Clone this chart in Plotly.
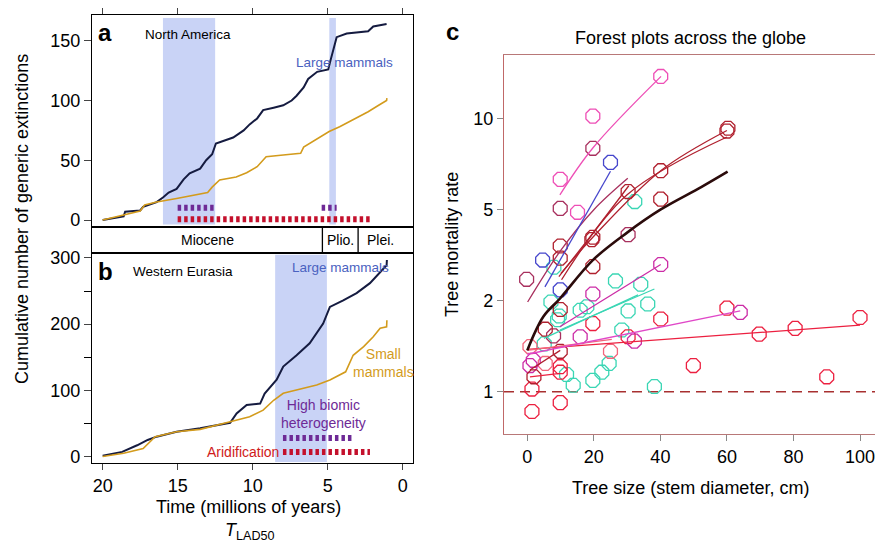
import numpy as np
import plotly.graph_objects as go

W, H = 875, 542
FONT = "Liberation Sans, Arial, sans-serif"

# ---------------- Panel a: North America ----------------
NA_LARGE_T = [20, 18.6, 18.5, 17.5, 17.3, 16.4, 15.96, 15.6, 15.07, 14.6, 14.2, 13.5, 13.1, 12.7, 12.45,
              11.96, 11.3, 10.6, 10.2, 9.7, 9.3, 8.6, 7.96, 7.4, 7.07, 6.6, 6.3, 5.7, 4.96, 4.8, 4.5, 4.4,
              3.73, 2.3, 1.96, 1.07]
NA_LARGE_N = [0, 3, 7, 8, 11, 15, 19, 23, 26, 34, 39, 43, 50, 55, 64, 66, 69, 75, 80, 85, 92, 94, 96, 100,
              104, 111, 118, 124, 126, 134, 150, 153, 156, 158, 162, 164]
NA_SMALL_T = [20, 18.6, 17.5, 17.2, 16.4, 15.07, 14.2, 13.0, 12.7, 12.2, 11.1, 10.4, 9.7, 9.1, 7.96, 6.8,
              6.6, 6.0, 5.3, 4.9, 4.2, 3.6, 2.9, 2.3, 1.6, 1.07, 1.05]
NA_SMALL_N = [0, 4, 7.5, 12.5, 15, 18, 20, 23, 27.5, 33.5, 36, 39.5, 44.6, 53, 54.4, 55.8, 61, 65.5, 71,
              74, 78, 82, 86.5, 90.6, 96, 100, 102]
NA_SHADE = [(15.98, 12.5), (4.89, 4.45)]
NA_BIOMIC = [(15.0, 12.4), (5.4, 4.4)]
NA_ARID = [(15.0, 2.0)]

# ---------------- Panel b: Western Eurasia ----------------
WE_LARGE_T = [20, 18.7, 17.7, 17.0, 16.4, 15.07, 13.5, 11.5, 11.07, 10.4, 9.5, 9.2, 8.4, 7.96, 7.07, 6.2,
              5.3, 4.85, 3.96, 3.07, 2.18, 1.5, 1.07, 1.05]
WE_LARGE_N = [1, 7, 17, 25, 30, 37.5, 42.6, 51, 65, 78, 80, 95, 116, 136, 153, 171, 201, 226, 236, 247,
              262, 279, 289, 297]
WE_SMALL_T = [20, 18.6, 17.3, 16.5, 15.07, 13.5, 11.5, 10.2, 9.3, 8.6, 7.96, 6.6, 5.73, 4.85, 3.8, 3.3,
              2.6, 1.96, 1.5, 1.07, 1.05]
WE_SMALL_N = [0, 5, 12, 30, 37.5, 41, 52.6, 60, 70, 85, 95.5, 103, 108, 115.6, 128, 153, 166, 181, 194,
              196, 206]
WE_SHADE = [(8.5, 5.05)]
WE_BIOMIC = [(7.98, 3.38)]
WE_ARID = [(7.98, 2.18)]

EPOCHS = ["Miocene", "Plio.", "Plei."]
EPOCH_BOUNDS = [23.0, 5.35, 2.97, 0.0]
TIME_TICKS = [20, 15, 10, 5, 0]

# ---------------- Panel c: forest plots ----------------
TICK_RATES = [1, 2, 5, 10]

PINK_X = [40.1, 19.7, 9.9, 15.1]
PINK_Y = [13.8, 10.2, 6.3, 4.87]
MAROON_X = [19.7, 9.9, 30.3, -0.2, 7.9]
MAROON_Y = [7.98, 5.05, 3.89, 2.48, 1.53]
BLUE_X = [25.0, 4.6, 9.9]
BLUE_Y = [7.17, 3.01, 2.23]
DARKRED_X = [60.0, 60.3, 40.1, 40.1, 30.3, 19.7, 19.4, 9.9, 9.9, 19.7, 9.9, 5.4, 9.9, 2.0]
DARKRED_Y = [9.1, 9.3, 6.73, 5.42, 5.74, 3.79, 3.7, 3.47, 3.07, 2.82, 1.87, 1.61, 1.36, 1.12]
CRIMSON_X = [40.1, 60.0, 69.7, 80.5, 100.0, 49.9, 90.0, 1.4, 1.4, 9.9, 30.3, 9.9, 9.9, 19.7]
CRIMSON_Y = [1.74, 1.89, 1.55, 1.62, 1.76, 1.22, 1.12, 1.02, 0.86, 0.92, 1.52, 1.21, 1.16, 1.68]
TEAL_X = [32.3, 8.0, 26.5, 34.1, 7.1, 15.9, 17.9, 30.3, 36.2, 38.2, 13.8, 11.8, 19.7, 22.4, 24.6, 28.4,
          5.1, 9.1, 9.6]
TEAL_Y = [5.32, 2.80, 2.44, 2.36, 1.98, 1.86, 1.91, 1.85, 1.95, 1.04, 1.05, 1.14, 1.09, 1.16, 1.24, 1.60,
          1.44, 1.73, 1.78]
MAGENTA_X = [40.1, 19.7, 15.9, 32.2, 1.8, 0.8, 64.0]
MAGENTA_Y = [2.88, 2.14, 1.52, 1.47, 1.27, 1.22, 1.83]
SALMON_X = [25.0, 5.4, 0.8]
SALMON_Y = [1.36, 1.24, 1.41]

PINK_LX, PINK_LY = [9.8, 19.7, 40.2], [5.6, 8.0, 13.8]
MAROON_LX, MAROON_LY = [0.1, 10, 20, 30.2], [1.98, 3.31, 5.0, 6.35]
BLUE_LX, BLUE_LY = [5.3, 25.0], [2.3, 6.7]
DARKRED1_LX, DARKRED1_LY = [10.1, 19.7, 40.1, 60.0], [2.63, 3.79, 6.73, 9.14]
DARKRED2_LX, DARKRED2_LY = [10.3, 30.0, 60.0], [2.47, 5.6, 8.7]
DARKRED3_LX, DARKRED3_LY = [9.5, 20.0, 30.5], [2.55, 4.0, 6.0]
DARKRED4_LX, DARKRED4_LY = [0.8, 9.9], [1.18, 1.37]
CRIMSON_LX, CRIMSON_LY = [0.0, 100.0], [1.38, 1.66]
CRIMSON2_LX, CRIMSON2_LY = [0.8, 9.9], [1.12, 1.15]
TEAL1_LX, TEAL1_LY = [9.8, 38.2], [1.6, 2.25]
TEAL2_LX, TEAL2_LY = [5.0, 33.3], [1.5, 2.12]
MAGENTA1_LX, MAGENTA1_LY = [9.8, 40.1], [1.64, 2.88]
MAGENTA2_LX, MAGENTA2_LY = [0.0, 64.0], [1.33, 1.85]
SALMON_LX, SALMON_LY = [0.0, 25.4], [1.37, 1.49]
GLOBAL_X = [0, 4.8, 9.9, 19.7, 30, 40, 52.4, 60.2]
GLOBAL_Y = [1.37, 1.77, 2.05, 3.01, 3.97, 5.0, 5.95, 6.68]
REF_RATE = 1.0
SIZE_TICKS = [0, 20, 40, 60, 80, 100]


def to_axis(r):
    r = np.asarray(r, float)
    lr = np.log(r)
    lt = np.log(TICK_RATES)
    idx = np.arange(len(TICK_RATES))
    out = np.interp(lr, lt, idx)
    out = np.where(lr < lt[0], (lr - lt[0]) / (lt[1] - lt[0]), out)
    out = np.where(lr > lt[-1], idx[-1] + (lr - lt[-1]) / (lt[-1] - lt[-2]), out)
    return out


def px(x):
    return x / W


def py(y):
    return 1 - y / H


NAVY = "#151b40"
GOLD = "#d39b1c"
SHADE = "#c9d3f6"
PURPLE = "#6e2a96"
RED = "#c4102c"
LBLUE = "#4a62c0"

fig = go.Figure()

# Panel a curves
fig.add_trace(go.Scatter(x=NA_LARGE_T, y=NA_LARGE_N, mode="lines", line=dict(color=NAVY, width=2),
                         xaxis="x", yaxis="y"))
fig.add_trace(go.Scatter(x=NA_SMALL_T, y=NA_SMALL_N, mode="lines", line=dict(color=GOLD, width=1.6),
                         xaxis="x", yaxis="y"))
for s, e in NA_BIOMIC:
    fig.add_trace(go.Scatter(x=[s, e], y=[10.3, 10.3], mode="lines",
                             line=dict(color=PURPLE, width=6, dash="3.5px,3px"), xaxis="x", yaxis="y"))
for s, e in NA_ARID:
    fig.add_trace(go.Scatter(x=[s, e], y=[0.6, 0.6], mode="lines",
                             line=dict(color=RED, width=6, dash="3.5px,3px"), xaxis="x", yaxis="y"))

# Panel b curves
fig.add_trace(go.Scatter(x=WE_LARGE_T, y=WE_LARGE_N, mode="lines", line=dict(color=NAVY, width=2),
                         xaxis="x3", yaxis="y3"))
fig.add_trace(go.Scatter(x=WE_SMALL_T, y=WE_SMALL_N, mode="lines", line=dict(color=GOLD, width=1.6),
                         xaxis="x3", yaxis="y3"))
for s, e in WE_BIOMIC:
    fig.add_trace(go.Scatter(x=[s, e], y=[28, 28], mode="lines",
                             line=dict(color=PURPLE, width=6, dash="3.5px,3px"), xaxis="x3", yaxis="y3"))
for s, e in WE_ARID:
    fig.add_trace(go.Scatter(x=[s, e], y=[6.8, 6.8], mode="lines",
                             line=dict(color=RED, width=6, dash="3.5px,3px"), xaxis="x3", yaxis="y3"))

# epoch strip dividers
for b in EPOCH_BOUNDS[1:3]:
    fig.add_trace(go.Scatter(x=[b, b], y=[0, 1], mode="lines", line=dict(color="black", width=1.3),
                             xaxis="x2", yaxis="y2"))

# Panel c
def add_line(xs, ys, color, width=1.3):
    fig.add_trace(go.Scatter(x=xs, y=to_axis(ys), mode="lines",
                             line=dict(color=color, width=width, shape="spline", smoothing=1.0),
                             xaxis="x4", yaxis="y4"))


def add_pts(xs, ys, color):
    fig.add_trace(go.Scatter(x=xs, y=to_axis(ys), mode="markers",
                             marker=dict(symbol="octagon-open", size=15, color=color, line=dict(width=1.3)),
                             xaxis="x4", yaxis="y4"))


PINKC = "#ee4fb6"
MAROONC = "#a8305e"
BLUEC = "#4646cc"
DARKREDC = "#b0202e"
CRIMSONC = "#ec2040"
TEALC = "#3ad6b4"
MAGENTAC = "#cc2ca6"
MAGENTA2C = "#e048c8"
SALMONC = "#f2657c"

fig.add_trace(go.Scatter(x=[-7, 104.5], y=to_axis([REF_RATE, REF_RATE]), mode="lines",
                         line=dict(color="#a83030", width=1.5, dash="10px,6px"), xaxis="x4", yaxis="y4"))
add_pts(TEAL_X, TEAL_Y, TEALC)
add_pts(CRIMSON_X, CRIMSON_Y, CRIMSONC)
add_pts(SALMON_X, SALMON_Y, SALMONC)
add_pts(MAGENTA_X, MAGENTA_Y, MAGENTAC)
add_pts(PINK_X, PINK_Y, PINKC)
add_pts(MAROON_X, MAROON_Y, MAROONC)
add_pts(BLUE_X, BLUE_Y, BLUEC)
add_pts(DARKRED_X, DARKRED_Y, DARKREDC)
add_line(TEAL1_LX, TEAL1_LY, TEALC)
add_line(TEAL2_LX, TEAL2_LY, TEALC)
add_line(CRIMSON_LX, CRIMSON_LY, CRIMSONC)
add_line(CRIMSON2_LX, CRIMSON2_LY, CRIMSONC)
add_line(SALMON_LX, SALMON_LY, SALMONC)
add_line(MAGENTA1_LX, MAGENTA1_LY, MAGENTAC)
add_line(MAGENTA2_LX, MAGENTA2_LY, MAGENTA2C)
add_line(PINK_LX, PINK_LY, PINKC)
add_line(MAROON_LX, MAROON_LY, MAROONC)
add_line(BLUE_LX, BLUE_LY, BLUEC)
add_line(DARKRED1_LX, DARKRED1_LY, DARKREDC)
add_line(DARKRED2_LX, DARKRED2_LY, DARKREDC)
add_line(DARKRED3_LX, DARKRED3_LY, DARKREDC)
add_line(DARKRED4_LX, DARKRED4_LY, DARKREDC)
add_line(GLOBAL_X, GLOBAL_Y, "#2b0b0b", width=2.6)

# shading
shapes = []
for s, e in NA_SHADE:
    shapes.append(dict(type="rect", xref="x", yref="y domain", x0=s, x1=e, y0=0.01, y1=0.985,
                       fillcolor=SHADE, line=dict(width=0), layer="below"))
for s, e in WE_SHADE:
    shapes.append(dict(type="rect", xref="x3", yref="y3 domain", x0=s, x1=e, y0=0.005, y1=0.99,
                       fillcolor=SHADE, line=dict(width=0), layer="below"))

TRANGE = [20.71, -0.69]
XD = [px(92), px(413)]
tickfont = dict(family=FONT, size=18, color="black")
axline = dict(showline=True, linecolor="black", linewidth=1.3, mirror=True, showgrid=False, zeroline=False,
              automargin=False)

ann = []


def A(text, x, y, size=14, color="black", **kw):
    d = dict(text=text, x=px(x), y=py(y), xref="paper", yref="paper", showarrow=False,
             font=dict(family=FONT, size=size, color=color), xanchor="center", yanchor="middle")
    d.update(kw)
    ann.append(d)


A("<b>a</b>", 105, 33, size=24)
A("North America", 188, 34, size=13.5)
A("Large mammals", 344, 62, size=13.5, color=LBLUE)
A("<b>b</b>", 105, 271, size=24)
A("Western Eurasia", 183, 271, size=13.5)
A("Large mammals", 340, 267, size=13.5, color=LBLUE)
A("Small<br>mammals", 383, 363, size=14, color=GOLD)
A("High biomic<br>heterogeneity", 323, 414, size=14, color=PURPLE)
A("Aridification", 243, 452, size=14, color="#d01a1a")
A("Cumulative number of generic extinctions", 22, 219, size=18, textangle=-90)
A("Time (millions of years)", 248, 507, size=18)
A("<i>T</i><sub>LAD50</sub>", 250, 531, size=18)
A("<b>c</b>", 452, 32, size=24)
A("Forest plots across the globe", 690, 38, size=18)
A("Tree mortality rate", 452, 245, size=18, textangle=-90)
A("Tree size (stem diameter, cm)", 690, 488, size=18)

for i, name in enumerate(EPOCHS):
    lo = min(EPOCH_BOUNDS[i], TRANGE[0])
    hi = max(EPOCH_BOUNDS[i + 1], TRANGE[1])
    ann.append(dict(text=name, x=(lo + hi) / 2, y=0.5, xref="x2", yref="y2", showarrow=False,
                    font=dict(family=FONT, size=14, color="black")))

fig.update_layout(
    width=W, height=H, margin=dict(l=0, r=0, t=0, b=0, autoexpand=False),
    paper_bgcolor="white", plot_bgcolor="white", showlegend=False,
    font=dict(family=FONT, size=18, color="black"),
    xaxis=dict(domain=XD, range=TRANGE, anchor="y", side="top", ticks="outside", ticklen=6,
               tickvals=TIME_TICKS, showticklabels=False, **axline),
    yaxis=dict(domain=[py(226.7), py(14.7)], range=[-5.6, 171.8], anchor="x", ticks="outside", ticklen=7,
               tickvals=[0, 50, 100, 150], tickfont=tickfont, **axline),
    xaxis2=dict(domain=XD, range=TRANGE, anchor="y2", showticklabels=False, ticks="", **axline),
    yaxis2=dict(domain=[py(252.7), py(226.7)], range=[0, 1], anchor="x2", showticklabels=False, ticks="",
                **axline),
    xaxis3=dict(domain=XD, range=TRANGE, anchor="y3", ticks="outside", ticklen=6, tickvals=TIME_TICKS,
                tickfont=tickfont, **axline),
    yaxis3=dict(domain=[py(463), py(252.7)], range=[-9.8, 308], anchor="x3", ticks="outside", ticklen=7,
                tickvals=[0, 100, 200, 300], tickfont=tickfont,
                minor=dict(tickvals=[50, 150, 250], ticks="outside", ticklen=7, tickcolor="black",
                           showgrid=False),
                **axline),
    xaxis4=dict(domain=[px(504), 1.0], range=[-7.0, 104.5], anchor="y4", ticks="outside", ticklen=6,
                tickvals=SIZE_TICKS, tickfont=tickfont, showline=True, linecolor="#b87878", linewidth=1.3,
                mirror=True, showgrid=False, zeroline=False, tickcolor="#888", automargin=False,
                ticklabeloverflow="allow"),
    yaxis4=dict(domain=[py(434), py(55)], range=[-0.465, 3.70], anchor="x4", ticks="outside", ticklen=6,
                tickvals=list(to_axis(TICK_RATES)), ticktext=[str(t) for t in TICK_RATES],
                tickfont=tickfont, showline=True, linecolor="#c06868", linewidth=1.3, mirror=True,
                showgrid=False, zeroline=False, tickcolor="#888", automargin=False),
    shapes=shapes,
    annotations=ann,
)

fig.write_html("out.html", config={"displayModeBar": False})

# remove the browser's default page margin so the figure sits at the window's top-left corner
with open("out.html", "r", encoding="utf-8") as f:
    html = f.read()
html = html.replace("<head>", "<head><style>html,body{margin:0;padding:0;overflow:hidden;}</style>", 1)
with open("out.html", "w", encoding="utf-8") as f:
    f.write(html)
